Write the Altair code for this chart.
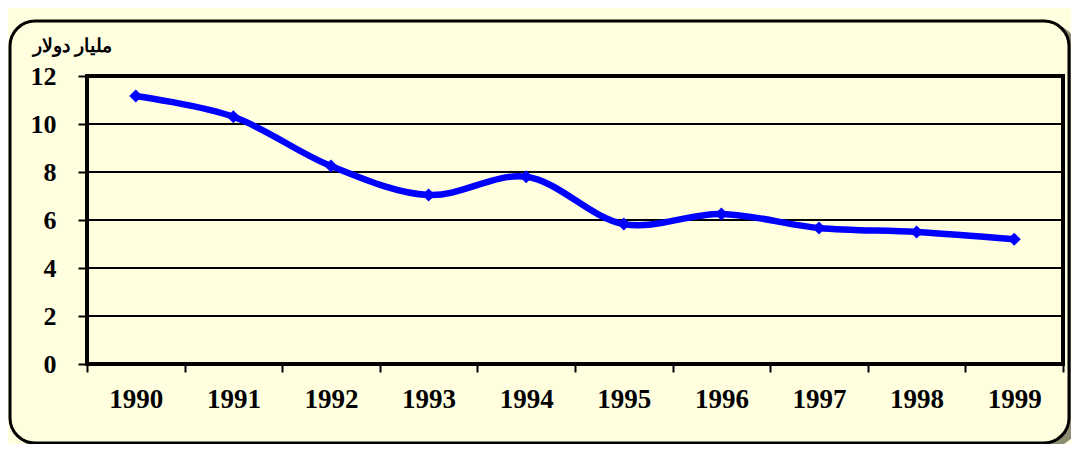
import altair as alt
import pandas as pd

years = ["1990", "1991", "1992", "1993", "1994", "1995", "1996", "1997", "1998", "1999"]
values = [11.17, 10.3, 8.25, 7.04, 7.8, 5.83, 6.25, 5.67, 5.5, 5.2]
y_ticks = [0, 2, 4, 6, 8, 10, 12]
y_title = "مليار دولار"

W, H = 976, 288
BG = "#FFFFE0"

df = pd.DataFrame({"year": years, "value": values})
grid_df = pd.DataFrame({"g": y_ticks})
one = alt.Data(values=[{"k": 1}])

x_enc = alt.X("year:O", scale=alt.Scale(type="band", paddingInner=0, paddingOuter=0),
              axis=alt.Axis(title=None, tickBand="extent", labelAngle=0,
                            labelFont="Liberation Serif", labelFontSize=27, labelFontWeight="bold",
                            labelColor="black", labelPadding=14, tickSize=8, tickWidth=2,
                            tickColor="black", domainColor="black", domainWidth=3,
                            grid=False, zindex=1))
y_enc = alt.Y("value:Q", scale=alt.Scale(domain=[0, 12], nice=False),
              axis=alt.Axis(values=y_ticks, title=y_title, titleAngle=0, titleAlign="right",
                            titleBaseline="middle", titleX=25, titleY=-31,
                            titleFont="Liberation Sans", titleFontSize=19, titleFontWeight="bold",
                            titleColor="black",
                            labelFont="Liberation Serif", labelFontSize=26, labelFontWeight="bold",
                            labelColor="black", labelPadding=22, tickSize=9, tickWidth=2,
                            tickColor="black", domainColor="black", domainWidth=3,
                            grid=False, zindex=1))

shadow = alt.Chart(one).mark_rect(cornerRadius=25, fill="#8C8C70").encode(
    x=alt.value(-73), x2=alt.value(990), y=alt.value(-51), y2=alt.value(371))
frame = alt.Chart(one).mark_rect(cornerRadius=25, fill=BG, stroke="black", strokeWidth=3).encode(
    x=alt.value(-77), x2=alt.value(982), y=alt.value(-55), y2=alt.value(367))
grid = alt.Chart(grid_df).mark_rule(color="black", strokeWidth=2).encode(
    y=alt.Y("g:Q", scale=alt.Scale(domain=[0, 12], nice=False)))
border = alt.Chart(one).mark_rect(fill=None, fillOpacity=0, stroke="black", strokeWidth=4).encode(
    x=alt.value(0), x2=alt.value(W), y=alt.value(0), y2=alt.value(H))

base = alt.Chart(df).encode(x=x_enc, y=y_enc)
line = base.mark_line(color="#0000FF", strokeWidth=6.5, interpolate="catmull-rom")
pts = base.mark_point(shape="diamond", filled=True, color="#0000FF", size=170, opacity=1)

chart = alt.layer(shadow, frame, grid, border, line, pts).properties(
    width=W, height=H, background=BG,
    padding={"left": 79, "top": 68, "right": 8, "bottom": 80},
    autosize=alt.AutoSizeParams(type="none"),
).configure_view(stroke=None)

chart.save("out.html", embed_options={"renderer": "svg", "actions": False})
